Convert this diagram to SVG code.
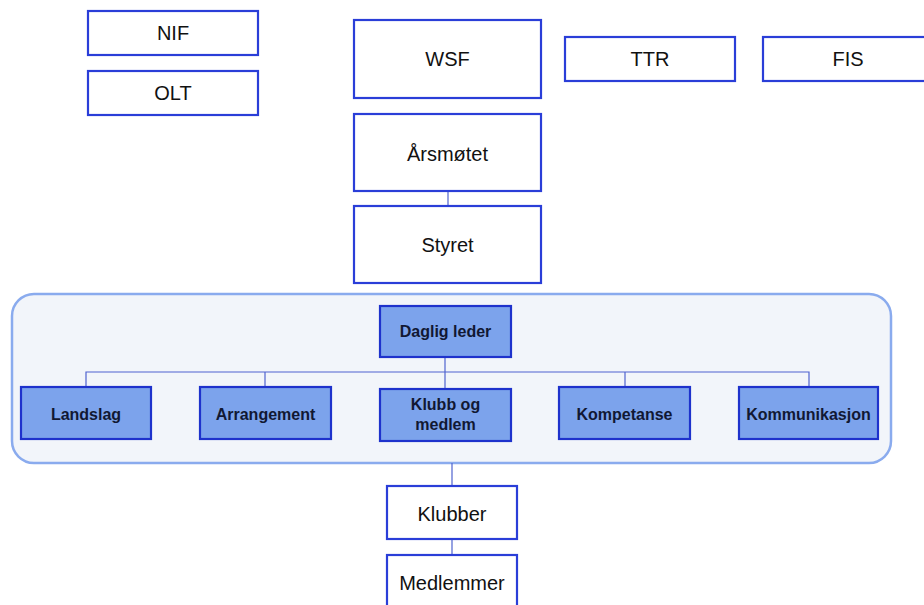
<svg xmlns="http://www.w3.org/2000/svg" width="924" height="605" viewBox="0 0 924 605">
<style>
.box{fill:#ffffff;stroke:#2a3ed8;stroke-width:2.2}
.unit{fill:#7ca3ec;stroke:#1e32cc;stroke-width:2.2}
.cont{fill:#f2f5fa;stroke:#8aabee;stroke-width:2.5}
.t{font-family:"Liberation Sans",Arial,sans-serif;font-size:20px;fill:#111111;text-anchor:middle}
.b{font-family:"Liberation Sans",Arial,sans-serif;font-size:16px;font-weight:bold;fill:#111833;text-anchor:middle}
.c{fill:none;stroke:#4f63cf;stroke-width:1.2}
</style>
<rect width="924" height="605" fill="#ffffff"/>
<g id="container"><rect class="cont" x="12" y="294" width="879" height="169" rx="22" ry="22"/></g>
<g id="connectors">
<line class="c" x1="448" y1="191" x2="448" y2="206"/>
<line class="c" x1="445" y1="357" x2="445" y2="389"/>
<polyline class="c" points="86,387 86,372 809,372 809,387"/>
<line class="c" x1="265" y1="372" x2="265" y2="387"/>
<line class="c" x1="625" y1="372" x2="625" y2="387"/>
<line class="c" x1="452" y1="463" x2="452" y2="486"/>
<line class="c" x1="452" y1="539" x2="452" y2="555"/>
</g>
<g id="NIF"><rect class="box" x="88" y="11" width="170" height="44"/><text class="t" x="173" y="40">NIF</text></g>
<g id="OLT"><rect class="box" x="88" y="71" width="170" height="44"/><text class="t" x="173" y="100">OLT</text></g>
<g id="WSF"><rect class="box" x="354" y="20" width="187" height="78"/><text class="t" x="447.5" y="66">WSF</text></g>
<g id="TTR"><rect class="box" x="565" y="37" width="170" height="44"/><text class="t" x="650" y="66">TTR</text></g>
<g id="FIS"><rect class="box" x="763" y="37" width="170" height="44"/><text class="t" x="848" y="66">FIS</text></g>
<g id="Arsmotet"><rect class="box" x="354" y="114" width="187" height="77"/><text class="t" x="447.5" y="161">Årsmøtet</text></g>
<g id="Styret"><rect class="box" x="354" y="206" width="187" height="77"/><text class="t" x="447.5" y="252">Styret</text></g>
<g id="Daglig"><rect class="unit" x="380" y="306" width="131" height="51"/><text class="b" x="445.5" y="337">Daglig leder</text></g>
<g id="Landslag"><rect class="unit" x="21" y="387" width="130" height="52"/><text class="b" x="86" y="420">Landslag</text></g>
<g id="Arrangement"><rect class="unit" x="200" y="387" width="131" height="52"/><text class="b" x="265.5" y="420">Arrangement</text></g>
<g id="Klubb"><rect class="unit" x="380" y="389" width="131" height="52"/><text class="b" x="445.5" y="410">Klubb og</text><text class="b" x="445.5" y="430">medlem</text></g>
<g id="Kompetanse"><rect class="unit" x="559" y="387" width="131" height="52"/><text class="b" x="624.5" y="420">Kompetanse</text></g>
<g id="Kommunikasjon"><rect class="unit" x="739" y="387" width="139" height="52"/><text class="b" x="808.5" y="420">Kommunikasjon</text></g>
<g id="Klubber"><rect class="box" x="387" y="486" width="130" height="53"/><text class="t" x="452" y="521">Klubber</text></g>
<g id="Medlemmer"><rect class="box" x="387" y="555" width="130" height="60"/><text class="t" x="452" y="590">Medlemmer</text></g>
</svg>
